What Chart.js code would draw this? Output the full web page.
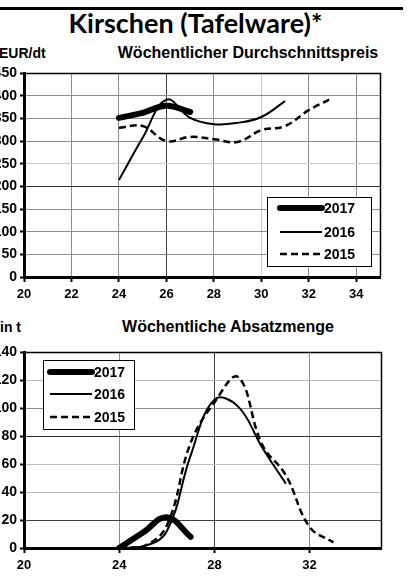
<!DOCTYPE html>
<html>
<head>
<meta charset="utf-8">
<script src="https://cdn.jsdelivr.net/npm/chart.js@4.4.1/dist/chart.umd.min.js"></script>
<style>
body{margin:0;width:407px;height:580px;overflow:hidden;background:#fff;position:relative;font-family:"Liberation Sans",Arial,sans-serif;color:#000;}
.rule{position:absolute;left:0;top:7px;width:403px;height:3px;background:#000;}
.title{position:absolute;left:0;width:391px;top:9px;text-align:center;font:bold 27px/27px Lato,sans-serif;white-space:nowrap;}
.sub{position:absolute;width:400px;text-align:center;font:bold 16px/16px "Liberation Sans",Arial,sans-serif;white-space:nowrap;}
.unit{position:absolute;left:-1px;font:bold 14px/14px "Liberation Sans",Arial,sans-serif;white-space:nowrap;}
.wrap{position:absolute;left:-30px;}
</style>
</head>
<body>
<div class="rule"></div>
<div class="title">Kirschen (Tafelware)*</div>
<div class="unit" style="top:46px">EUR/dt</div>
<div class="sub" style="left:48px;top:45px">Wöchentlicher Durchschnittspreis</div>
<div class="wrap" style="top:60px"><canvas id="priceChart" width="437" height="250"></canvas></div>
<div class="unit" style="top:320px;left:0">in t</div>
<div class="sub" style="left:28px;top:319px">Wöchentliche Absatzmenge</div>
<div class="wrap" style="top:335px"><canvas id="amountChart" width="437" height="245"></canvas></div>
<script>
// Kalenderwochen
const weeks = [24, 25, 26, 27, 28, 29, 30, 31, 32, 33];
const years = ['2017', '2016', '2015'];

// Durchschnittspreis EUR/dt
const price2017 = [351, 362, 378, 364];
const price2016 = [214, 307, 391, 351, 337, 340, 353, 388];
const price2015 = [329, 333, 300, 309, 304, 298, 324, 333, 368, 395];

// Absatzmenge in t
const amount2017 = [0, 11, 22, 8];
const amount2016 = [0, 1, 12, 66, 106, 101, 72, 46];
const amount2015 = [0, 1, 16, 75, 104, 122, 74, 52, 15, 4];

const priceTicksY = [0, 50, 100, 150, 200, 250, 300, 350, 400, 450];
const priceTicksX = [20, 22, 24, 26, 28, 30, 32, 34];
const amountTicksY = [0, 20, 40, 60, 80, 100, 120, 140];
const amountTicksX = [20, 24, 28, 32];

const fontX = {family: '"Liberation Sans", Arial, sans-serif', size: 13, weight: 'bold'};
const fontY = {family: '"Liberation Sans", Arial, sans-serif', size: 14, weight: 'bold'};

function points(values){
    return values.map((v, i) => ({x: weeks[i], y: v}));
}

function makeDatasets(a, b, c){
    return [
        {label: years[0], data: points(a), borderColor: '#000', borderWidth: 6, borderCapStyle: 'round', tension: 0.4, pointRadius: 0},
        {label: years[1], data: points(b), borderColor: '#000', borderWidth: 2, tension: 0.4, pointRadius: 0},
        {label: years[2], data: points(c), borderColor: '#000', borderWidth: 2.5, borderDash: [7, 4], tension: 0.4, pointRadius: 0}
    ];
}

// Rahmen oben und rechts
const frame = {
    id: 'frame',
    beforeDatasetsDraw(chart){
        const ctx = chart.ctx, a = chart.chartArea;
        ctx.save();
        ctx.strokeStyle = '#000';
        ctx.lineWidth = 1.5;
        ctx.beginPath();
        ctx.moveTo(a.left, a.top + 0.5);
        ctx.lineTo(a.right + 0.5, a.top + 0.5);
        ctx.lineTo(a.right + 0.5, a.bottom);
        ctx.stroke();
        ctx.restore();
    }
};

// Legende im Diagramm
const boxLegend = {
    id: 'boxLegend',
    afterDatasetsDraw(chart, args, opts){
        const ctx = chart.ctx, a = chart.chartArea;
        const x = Math.round(a.left + opts.x), y = Math.round(a.top + opts.y);
        ctx.save();
        ctx.fillStyle = '#fff';
        ctx.fillRect(x, y, opts.w, opts.h);
        ctx.strokeStyle = '#000';
        ctx.lineWidth = 1;
        ctx.strokeRect(x + 0.5, y + 0.5, opts.w, opts.h);
        chart.data.datasets.forEach((ds, i) => {
            const ly = y + opts.rows[i];
            ctx.beginPath();
            ctx.lineWidth = ds.borderWidth;
            ctx.setLineDash(ds.borderDash || []);
            ctx.lineCap = ds.borderCapStyle || 'butt';
            ctx.moveTo(x + opts.line[0], ly);
            ctx.lineTo(x + opts.line[1], ly);
            ctx.stroke();
            ctx.setLineDash([]);
            ctx.fillStyle = '#000';
            ctx.font = 'bold 14px "Liberation Sans", Arial, sans-serif';
            ctx.textBaseline = 'middle';
            ctx.fillText(ds.label, x + opts.line[1] + 2, ly + 1);
        });
        ctx.restore();
    }
};

function makeOptions(ticksX, ticksY, maxY, gridX, gridY, legend, padding){
    return {
        responsive: false,
        animation: false,
        devicePixelRatio: 1,
        layout: {padding: padding},
        plugins: {legend: {display: false}, tooltip: {enabled: false}, boxLegend: legend},
        scales: {
            x: {
                type: 'linear', min: 20, max: 35,
                afterBuildTicks: s => { s.ticks = ticksX.map(v => ({value: v})); },
                afterFit: s => { s.height = 24; },
                grid: {color: c => gridX[c.tick.value] || '#8c8c8c', lineWidth: 1, tickLength: 5, tickColor: '#000', tickWidth: 2},
                border: {color: '#000', width: 3},
                ticks: {color: '#000', font: fontX, padding: 5, maxRotation: 0, autoSkip: false}
            },
            y: {
                min: 0, max: maxY,
                afterBuildTicks: s => { s.ticks = ticksY.map(v => ({value: v})); },
                afterFit: s => { s.width = 54; },
                grid: {color: c => gridY[c.tick.value] || '#8c8c8c', lineWidth: 1, tickLength: 4, tickColor: '#000', tickWidth: 2},
                border: {color: '#000', width: 3},
                ticks: {color: '#000', font: fontY, padding: 3}
            }
        }
    };
}

new Chart(document.getElementById('priceChart'), {
    type: 'line',
    data: {datasets: makeDatasets(price2017, price2016, price2015)},
    options: makeOptions(priceTicksX, priceTicksY, 450,
        {26: '#404040', 30: '#c8c8c8'},
        {200: '#303030', 250: '#cccccc'},
        {x: 243, y: 124, w: 104, h: 69, rows: [11, 35, 57], line: [13, 55]},
        {top: 13, right: 27, bottom: 9, left: 0}),
    plugins: [frame, boxLegend]
});

new Chart(document.getElementById('amountChart'), {
    type: 'line',
    data: {datasets: makeDatasets(amount2017, amount2016, amount2015)},
    options: makeOptions(amountTicksX, amountTicksY, 140,
        {28: '#404040'},
        {80: '#303030', 20: '#404040', 120: '#bbbbbb', 60: '#bbbbbb', 40: '#bbbbbb'},
        {x: 19, y: 8, w: 91, h: 69, rows: [12, 34, 57], line: [7, 49]},
        {top: 17, right: 26, bottom: 8, left: 0}),
    plugins: [frame, boxLegend]
});
</script>
</body>
</html>
